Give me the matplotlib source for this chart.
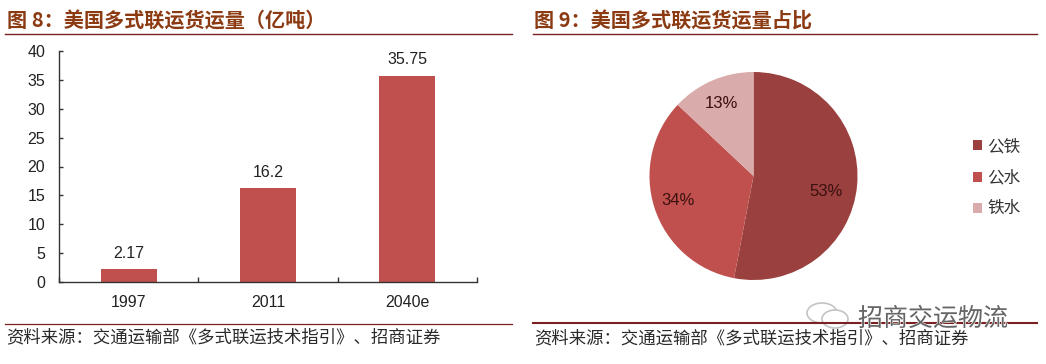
import matplotlib
matplotlib.use("Agg")
import matplotlib.pyplot as plt
import matplotlib.patheffects as pe
from matplotlib.lines import Line2D
from matplotlib.patches import Ellipse

plt.rcParams['font.family'] = ['Liberation Sans', 'Noto Sans CJK SC', 'DejaVu Sans']

years = ['1997', '2011', '2040e']
volumes = [2.17, 16.2, 35.75]
volume_labels = ['2.17', '16.2', '35.75']
y_ticks = [0, 5, 10, 15, 20, 25, 30, 35, 40]
modes = ['公铁', '公水', '铁水']
shares = [53, 34, 13]
share_labels = ['53%', '34%', '13%']
left_title = '图 8：美国多式联运货运量（亿吨）'
right_title = '图 9：美国多式联运货运量占比'
source = '资料来源：交通运输部《多式联运技术指引》、招商证券'
watermark = '招商交运物流'

W, H = 1046, 364
BAR = '#C0504D'
PIE = ['#9A403E', '#C0504D', '#D9ABAA']
TITLE = '#8C3A12'
RULE = '#7A1F22'
TXT = '#222222'
CJK = 'Noto Sans CJK SC'
fig = plt.figure(figsize=(W / 100, H / 100), dpi=100, facecolor='white')


def box(x0, y0, x1, y1):
    return [x0 / W, 1 - y1 / H, (x1 - x0) / W, (y1 - y0) / H]


def rule(x0, x1, y, lw=1.0):
    fig.add_artist(Line2D([x0 / W, x1 / W], [1 - y / H] * 2, color=RULE, lw=lw))


def ftext(x, y, s, **kw):
    return fig.text(x / W, 1 - y / H, s, va='center', **kw)


# Bar chart
ax = fig.add_axes(box(59, 51, 477, 282))
xs = range(len(years))
ax.bar(xs, volumes, width=0.4, color=BAR)
ax.set_xlim(-0.5, 2.5)
ax.set_ylim(0, 40)
ax.set_yticks(y_ticks)
ax.set_xticks(list(xs))
ax.set_xticklabels(years)
ax.set_xticks([-0.5, 0.5, 1.5, 2.5], minor=True)
ax.tick_params(axis='x', which='major', length=0, pad=9.5, labelsize=11.5, labelcolor=TXT)
ax.tick_params(axis='x', which='minor', direction='in', length=3.6, width=1, color='#333333')
ax.tick_params(axis='y', direction='in', length=3, width=1, pad=10, labelsize=11.5,
               labelcolor=TXT, color='#333333')
for s in ('top', 'right'):
    ax.spines[s].set_visible(False)
for s in ('left', 'bottom'):
    ax.spines[s].set_color('#333333')
    ax.spines[s].set_linewidth(1)
for x, v, t in zip(xs, volumes, volume_labels):
    ax.annotate(t, (x, v), xytext=(0, 6), textcoords='offset points', ha='center',
                va='bottom', fontsize=11.5, color=TXT)

# Pie chart
pax = fig.add_axes(box(649.5, 72, 857.5, 280))
wedges, _ = pax.pie(shares, colors=PIE, startangle=90, counterclock=False, radius=1)
pax.set_xlim(-1, 1)
pax.set_ylim(-1, 1)
pax.text(0.70, -0.15, share_labels[0], ha='center', va='center', fontsize=12, color='#3A1010')
pax.text(-0.726, -0.2375, share_labels[1], ha='center', va='center', fontsize=12, color='#3A1010')
pax.text(-0.306, 0.70, share_labels[2], ha='center', va='center', fontsize=12, color='#3A1010')
fig.legend(wedges, modes, loc='center left', bbox_to_anchor=(973 / W, 1 - 177.5 / H), frameon=False,
           fontsize=12, handlelength=0.55, handleheight=0.55, handletextpad=0.3,
           labelspacing=0.95, borderpad=0, borderaxespad=0, labelcolor='#333333')

# Titles, rules, sources
ftext(7, 21, left_title, fontsize=14.5, color=TITLE, fontweight='bold', family=CJK)
ftext(534, 21, right_title, fontsize=14.5, color=TITLE, fontweight='bold', family=CJK)
rule(5, 512, 34.4)
rule(533, 1037, 34.4)
rule(5, 512, 324, lw=0.9)
rule(533, 1037, 323.4, lw=1.5)
ftext(6, 337, source, fontsize=12.5, color='#2A2A2A', family=CJK)
ftext(534, 338, source, fontsize=12.5, color='#2A2A2A', family=CJK)

# Watermark
ov = fig.add_axes([0, 0, 1, 1], facecolor='none')
ov.set_xlim(0, W)
ov.set_ylim(H, 0)
ov.axis('off')
ov.add_patch(Ellipse((822, 313), 30, 20, fc='white', ec='#C4C4C4', lw=1.2))
ov.add_patch(Ellipse((835, 319), 26, 18, fc='white', ec='#C4C4C4', lw=1.2))
ftext(858, 319, watermark, fontsize=18, color='#666666', family=CJK,
      path_effects=[pe.withStroke(linewidth=0.8, foreground='white')])

fig.savefig('out.png', dpi=100)
